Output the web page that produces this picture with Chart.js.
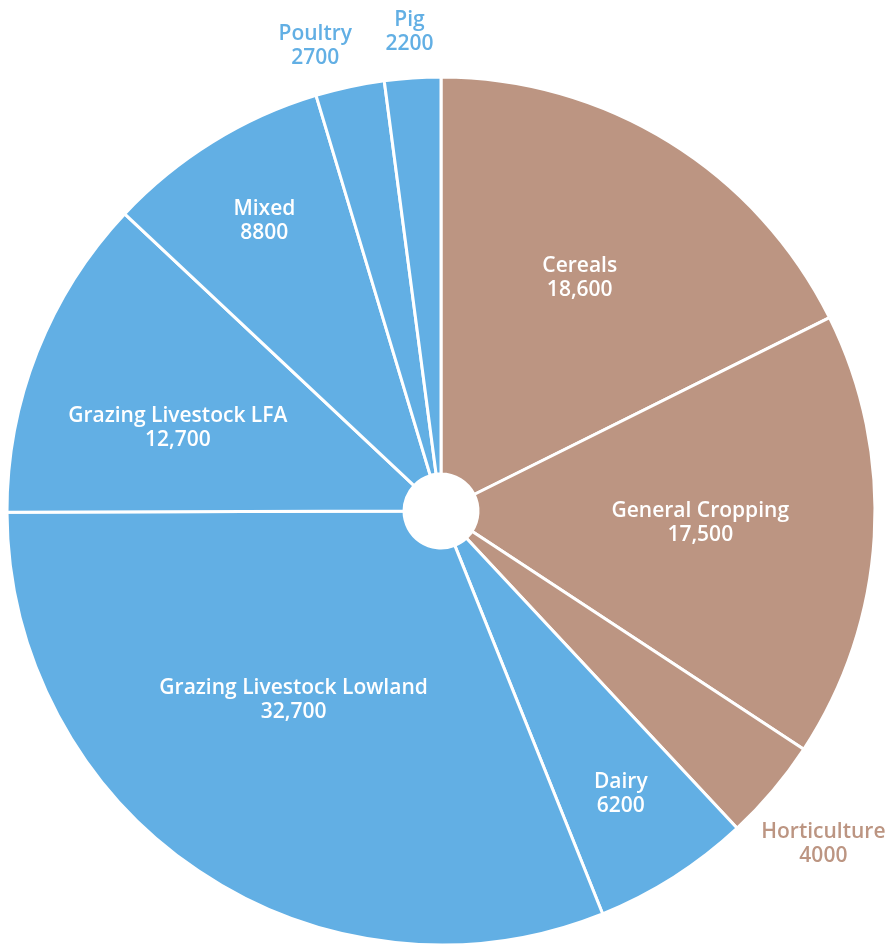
<!DOCTYPE html>
<html>
<head>
<meta charset="utf-8">
<script src="https://cdn.jsdelivr.net/npm/chart.js@4/dist/chart.umd.min.js"></script>
<style>
  html, body { margin: 0; padding: 0; background: #ffffff; overflow: hidden; }
  #wrap { position: relative; width: 886px; height: 948px; }
</style>
</head>
<body>
<div id="wrap"><canvas id="c"></canvas></div>
<script>
const categories = ["Cereals", "General Cropping", "Horticulture", "Dairy", "Grazing Livestock Lowland", "Grazing Livestock LFA", "Mixed", "Poultry", "Pig"];
const farmCounts = [18600, 17500, 4000, 6200, 32700, 12700, 8800, 2700, 2200];
const groups = ["crop", "crop", "crop", "livestock", "livestock", "livestock", "livestock", "livestock", "livestock"];

const BROWN = "#BC9582";
const BLUE = "#62AFE4";
const groupColors = { crop: BROWN, livestock: BLUE };

// label placement: radius fraction of outer radius, angular offset (deg), inside/outside
const labelRadius = [0.625, 0.598, 1.168, 0.772, 0.552, 0.636, 0.782, 1.11, 1.107];
const labelAngleOffset = [-1, -0.8, 0.9, 0, 4, -4, 0.4, -3, 0];
const labelInside = [true, true, false, true, true, true, true, false, false];

function fmt(v) {
  return v >= 10000 ? v.toLocaleString("en-US") : String(v);
}

const labelPlugin = {
  id: "sliceLabels",
  afterDatasetsDraw(chart) {
    const ctx = chart.ctx;
    const meta = chart.getDatasetMeta(0);
    ctx.save();
    ctx.textAlign = "center";
    ctx.textBaseline = "middle";
    ctx.font = "600 21px 'Open Sans', Lato, sans-serif";
    meta.data.forEach((arc, i) => {
      const mid = (arc.startAngle + arc.endAngle) / 2 + labelAngleOffset[i] * Math.PI / 180;
      const r = arc.outerRadius * labelRadius[i];
      const x = arc.x + Math.cos(mid) * r;
      const y = arc.y + Math.sin(mid) * r;
      ctx.fillStyle = labelInside[i] ? "#ffffff" : groupColors[groups[i]];
      ctx.fillText(categories[i], x, y - 12);
      ctx.fillText(fmt(farmCounts[i]), x, y + 12);
    });
    ctx.restore();
  }
};

new Chart(document.getElementById("c"), {
  type: "doughnut",
  data: {
    labels: categories,
    datasets: [{
      data: farmCounts,
      backgroundColor: groups.map(g => groupColors[g]),
      borderColor: "#ffffff",
      borderWidth: 3,
      hoverOffset: 0
    }]
  },
  options: {
    responsive: true,
    maintainAspectRatio: false,
    animation: false,
    cutout: 37,
    layout: { padding: { left: 5.5, right: 9.5, top: 75.5, bottom: 1.5 } },
    plugins: {
      legend: { display: false },
      tooltip: { enabled: false }
    }
  },
  plugins: [labelPlugin]
});
</script>
</body>
</html>
